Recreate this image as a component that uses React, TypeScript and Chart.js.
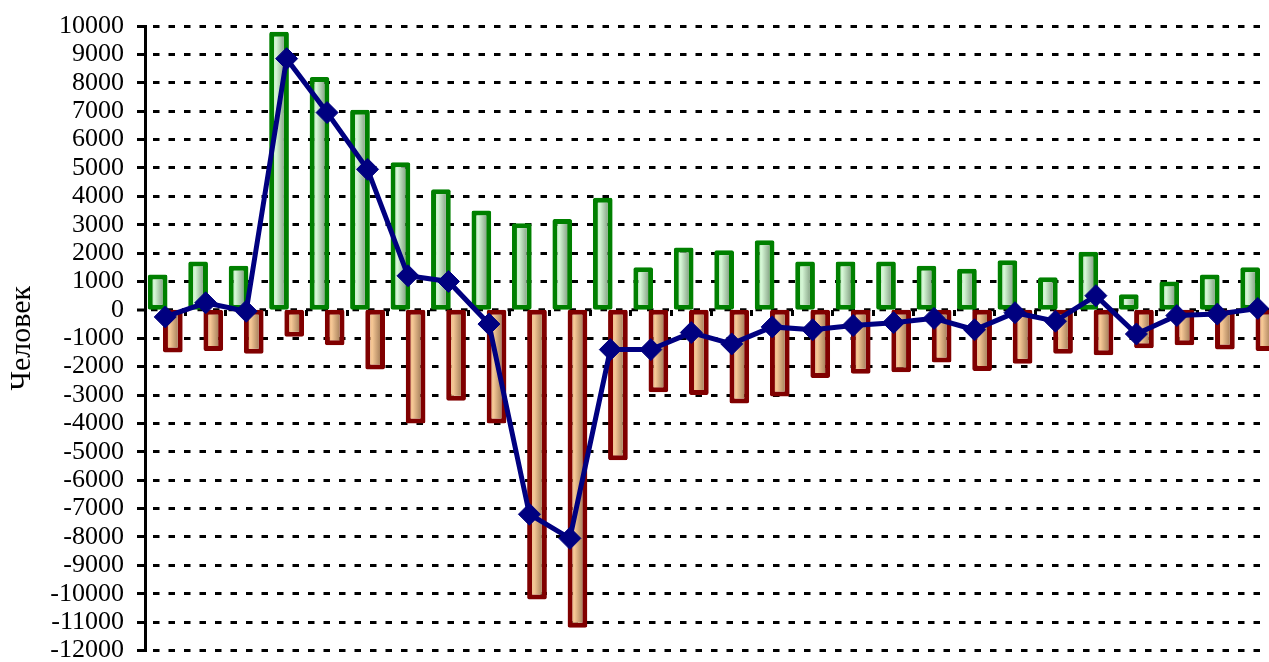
import React, { useEffect, useRef } from "react";
import { Chart, registerables } from "chart.js";

Chart.register(...registerables);

const categories = [
  "1", "2", "3", "4", "5", "6", "7", "8", "9", "10", "11", "12", "13", "14",
  "15", "16", "17", "18", "19", "20", "21", "22", "23", "24", "25", "26", "27", "28",
];

const arrivals = [
  1250, 1700, 1550, 9800, 8200, 7050, 5200, 4250, 3500, 3050, 3200, 3950, 1500, 2200,
  2100, 2450, 1700, 1700, 1700, 1550, 1450, 1750, 1150, 2050, 550, 1000, 1250, 1500,
];

const departures = [
  -1500, -1450, -1550, -950, -1250, -2100, -4000, -3200, -4000, -10200, -11200, -5300, -2900, -3000,
  -3300, -3050, -2400, -2250, -2200, -1850, -2150, -1900, -1550, -1600, -1350, -1250, -1400, -1450,
];

const balance = [
  -250, 250, -50, 8850, 6950, 4950, 1200, 1000, -500, -7200, -8050, -1400, -1400, -800,
  -1200, -600, -700, -550, -450, -300, -700, -100, -400, 500, -850, -200, -150, 50,
];

const Y_MIN = -12000;
const Y_MAX = 10000;
const Y_STEP = 1000;
const Y_TITLE = "Человек";

const CAT_PCT = 0.75;
const BAR_PCT = 1.3;
const GRID_DASH = [6.5, 9];

const greenStops = ["#a9dca9", "#d6f7d6", "#5d785d"];
const redStops = ["#d99c66", "#f6c896", "#7c5a3c"];

function barGradient(stops: string[], side: number) {
  return (c: any) => {
    const chart = c.chart;
    const xs = chart.scales && chart.scales.x;
    if (!xs || c.dataIndex === undefined || !xs.width) return stops[1];
    const cw = xs.width / categories.length;
    const slot = (cw * CAT_PCT) / 2;
    const cx = xs.getPixelForValue(c.dataIndex) + (side * slot) / 2;
    const bw = slot * BAR_PCT;
    const g = chart.ctx.createLinearGradient(cx - bw / 2, 0, cx + bw / 2, 0);
    g.addColorStop(0, stops[0]);
    g.addColorStop(0.35, stops[1]);
    g.addColorStop(1, stops[2]);
    return g;
  };
}

// dashed zero gridline (drawn separately so bars sit exactly on zero)
const zeroLine = {
  id: "zeroLine",
  beforeDatasetsDraw(chart: any) {
    const { ctx, chartArea, scales } = chart;
    const y = scales.y.getPixelForValue(0);
    ctx.save();
    ctx.strokeStyle = "#000";
    ctx.lineWidth = 3;
    ctx.setLineDash(GRID_DASH);
    ctx.lineDashOffset = -6;
    ctx.beginPath();
    ctx.moveTo(chartArea.left, y);
    ctx.lineTo(chartArea.right, y);
    ctx.stroke();
    ctx.restore();
  },
};

export default function App() {
  const ref = useRef<HTMLCanvasElement | null>(null);

  useEffect(() => {
    if (!ref.current) return;
    const serif = "'Liberation Serif', 'Times New Roman', serif";
    const chart = new Chart(ref.current, {
      type: "bar",
      plugins: [zeroLine],
      data: {
        labels: categories,
        datasets: [
          {
            type: "line",
            label: "Сальдо",
            data: balance,
            order: 0,
            borderColor: "#000080",
            backgroundColor: "#000080",
            borderWidth: 5,
            tension: 0,
            fill: false,
            pointStyle: "rectRot",
            pointRadius: 11,
            pointBorderWidth: 1,
            pointBackgroundColor: "#000080",
            pointBorderColor: "#000080",
          } as any,
          {
            type: "bar",
            label: "Прибыло",
            data: arrivals,
            order: 1,
            backgroundColor: barGradient(greenStops, -1),
            borderColor: "#008000",
            borderWidth: 5,
            borderSkipped: false,
            borderRadius: 2,
            categoryPercentage: CAT_PCT,
            barPercentage: BAR_PCT,
          } as any,
          {
            type: "bar",
            label: "Выбыло",
            data: departures,
            order: 2,
            backgroundColor: barGradient(redStops, 1),
            borderColor: "#800000",
            borderWidth: 5,
            borderSkipped: false,
            borderRadius: 2,
            categoryPercentage: CAT_PCT,
            barPercentage: BAR_PCT,
          } as any,
        ],
      },
      options: {
        responsive: false,
        animation: false,
        layout: { padding: { left: 0, top: 26, right: 12, bottom: 49.5 } },
        plugins: {
          legend: { display: false },
          tooltip: { enabled: false },
        },
        scales: {
          x: {
            type: "category",
            position: { y: 0 } as any,
            offset: true,
            grid: {
              display: true,
              drawOnChartArea: false,
              drawTicks: true,
              tickLength: 6,
              tickWidth: 3,
              tickColor: "#000",
              offset: true,
            },
            border: { display: false },
            ticks: { display: false },
          },
          y: {
            min: Y_MIN,
            max: Y_MAX,
            ticks: {
              stepSize: Y_STEP,
              autoSkip: false,
              color: "#000",
              padding: 13,
              font: { family: serif, size: 26, lineHeight: 1 },
              callback: (v: any) => String(v),
            },
            grid: {
              color: "#000",
              lineWidth: (c: any) => (c.tick && c.tick.value === 0 ? 0 : 3),
              drawTicks: true,
              tickLength: 8,
              tickWidth: 3,
              tickColor: "#000",
            },
            border: { display: true, color: "#000", width: 3, dash: GRID_DASH, dashOffset: -6 },
            title: {
              display: true,
              text: Y_TITLE,
              color: "#000",
              font: { family: serif, size: 30 },
              padding: { top: 4, bottom: 0 },
            },
            afterFit: (s: any) => {
              s.width = 145;
            },
          } as any,
        },
      },
    });
    return () => chart.destroy();
  }, []);

  return (
    <div
      style={{
        position: "absolute",
        left: 0,
        top: 0,
        width: 1269,
        height: 662,
        overflow: "hidden",
        background: "#fff",
      }}
    >
      <canvas
        ref={ref}
        width={1290}
        height={700}
        style={{ display: "block", width: 1290, height: 700 }}
      />
    </div>
  );
}
